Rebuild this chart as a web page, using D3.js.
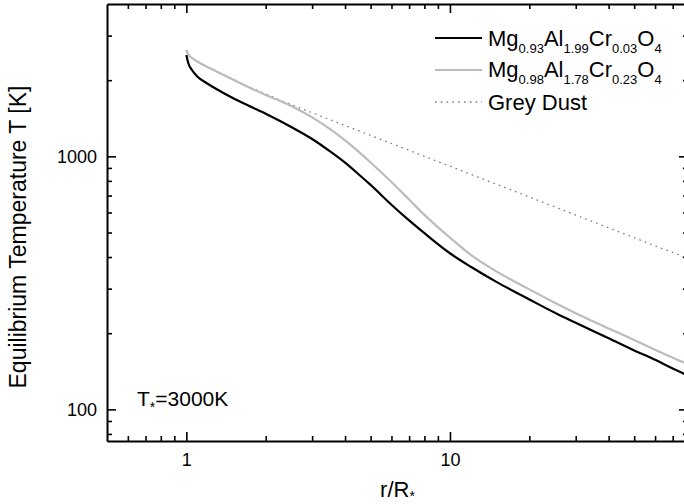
<!DOCTYPE html>
<html>
<head>
<meta charset="utf-8">
<script src="https://cdn.jsdelivr.net/npm/d3@7"></script>
<style>
  html, body { margin: 0; padding: 0; background: #fff; }
  svg { display: block; }
  text { font-family: "Liberation Sans", Arial, Helvetica, sans-serif; fill: #000; }
</style>
</head>
<body>
<svg id="chart" width="684" height="504"></svg>
<script>
// Radial distance in stellar radii (r/R*)
const radius = [1.00, 1.01, 1.02, 1.05, 1.10, 1.20, 1.30, 1.50, 1.75, 2.00, 2.50, 3.00, 3.50, 4.00, 4.50,
                5.00, 6.00, 7.00, 8.00, 10.0, 12.0, 15.0, 20.0, 25.0, 30.0, 40.0, 50.0, 60.0, 70.0, 80.0];

// Equilibrium temperatures [K] for each dust species
const tempMg093 = [2515, 2404, 2317, 2194, 2068, 1941, 1846, 1701, 1574, 1473, 1306, 1171, 1048, 944, 850,
                   771, 644, 558, 497, 414, 366, 319, 272, 241, 220, 191, 171, 157, 145, 136];
const tempMg098 = [2620, 2573, 2515, 2447, 2371, 2256, 2165, 2013, 1863, 1748, 1581, 1426, 1284, 1157, 1044,
                   946, 792, 675, 587, 477, 408, 351, 298, 264, 240, 209, 188, 172, 160, 151];
const tempGreyDust = [2633, 2574, 2527, 2459, 2381, 2265, 2175, 2022, 1871, 1764, 1602, 1488, 1397, 1324, 1263,
                      1210, 1124, 1057, 1000, 914, 849, 776, 691, 631, 586, 522, 477, 443, 417, 394];

// Axis ticks
const xMajorTicks = [1, 10];
const xMinorTicks = [0.6, 0.7, 0.8, 0.9, 2, 3, 4, 5, 6, 7, 8, 9, 20, 30, 40, 50, 60, 70];
const yMajorTicks = [100, 1000];
const yMinorTicks = [80, 90, 200, 300, 400, 500, 600, 700, 800, 900, 2000, 3000];

// Legend entries: [text, isSubscript] pieces
const legendMg093 = [["Mg", 0], ["0.93", 1], ["Al", 0], ["1.99", 1], ["Cr", 0], ["0.03", 1], ["O", 0], ["4", 1]];
const legendMg098 = [["Mg", 0], ["0.98", 1], ["Al", 0], ["1.78", 1], ["Cr", 0], ["0.23", 1], ["O", 0], ["4", 1]];
const legendGrey = [["Grey Dust", 0]];

const svg = d3.select("#chart");

const plot = { left: 107, right: 688, top: 4, bottom: 441 };

const x = d3.scaleLog().domain([0.5, 80]).range([plot.left, plot.right]);
const y = d3.scaleLog().domain([75, 4000]).range([plot.bottom, plot.top]);

// Curves
svg.append("defs").append("clipPath").attr("id", "plot-clip")
  .append("rect")
  .attr("x", plot.left).attr("y", plot.top)
  .attr("width", plot.right - plot.left).attr("height", plot.bottom - plot.top);

const series = [
  { values: tempGreyDust, stroke: "#7a7a7a", width: 1.3, dash: "1.6,4.2" },
  { values: tempMg098, stroke: "#bcbcbc", width: 2.2, dash: null },
  { values: tempMg093, stroke: "#000000", width: 2.2, dash: null }
];

const line = d3.line()
  .x(d => x(d[0]))
  .y(d => y(d[1]))
  .curve(d3.curveMonotoneX);

const curves = svg.append("g").attr("clip-path", "url(#plot-clip)");
series.forEach(s => {
  curves.append("path")
    .datum(radius.map((r, i) => [r, s.values[i]]))
    .attr("fill", "none")
    .attr("stroke", s.stroke)
    .attr("stroke-width", s.width)
    .attr("stroke-dasharray", s.dash)
    .attr("stroke-linejoin", "round")
    .attr("d", line);
});

// Axes: all ticks point into the frame
function styleAxis(g, showDomain) {
  g.attr("font-family", null).attr("font-size", null);
  g.select(".domain").attr("stroke", "#000").attr("stroke-width", 2).style("display", showDomain ? null : "none");
  g.selectAll(".tick line").attr("stroke", "#000").attr("stroke-width", 1.6);
  g.selectAll(".tick text").attr("font-size", 18).attr("fill", "#000");
}

svg.append("g").attr("transform", `translate(0,${plot.bottom})`)
  .call(d3.axisBottom(x).tickValues(xMinorTicks).tickSize(-5).tickSizeOuter(0).tickFormat(""))
  .call(g => styleAxis(g, false));
svg.append("g").attr("transform", `translate(0,${plot.bottom})`)
  .call(d3.axisBottom(x).tickValues(xMajorTicks).tickSize(-9).tickSizeOuter(0).tickPadding(12).tickFormat(d3.format("d")))
  .call(g => styleAxis(g, true));

svg.append("g").attr("transform", `translate(0,${plot.top})`)
  .call(d3.axisTop(x).tickValues(xMinorTicks).tickSize(-5).tickSizeOuter(0).tickFormat(""))
  .call(g => styleAxis(g, false));
svg.append("g").attr("transform", `translate(0,${plot.top})`)
  .call(d3.axisTop(x).tickValues(xMajorTicks).tickSize(-9).tickSizeOuter(0).tickFormat(""))
  .call(g => styleAxis(g, true));

svg.append("g").attr("transform", `translate(${plot.left},0)`)
  .call(d3.axisLeft(y).tickValues(yMinorTicks).tickSize(-5).tickSizeOuter(0).tickFormat(""))
  .call(g => styleAxis(g, false));
svg.append("g").attr("transform", `translate(${plot.left},0)`)
  .call(d3.axisLeft(y).tickValues(yMajorTicks).tickSize(-9).tickSizeOuter(0).tickPadding(10).tickFormat(d3.format("d")))
  .call(g => styleAxis(g, true));

svg.append("g").attr("transform", `translate(${plot.right},0)`)
  .call(d3.axisRight(y).tickValues(yMinorTicks).tickSize(-5).tickSizeOuter(0).tickFormat(""))
  .call(g => styleAxis(g, false));
svg.append("g").attr("transform", `translate(${plot.right},0)`)
  .call(d3.axisRight(y).tickValues(yMajorTicks).tickSize(-9).tickSizeOuter(0).tickFormat(""))
  .call(g => styleAxis(g, true));

// Axis titles
const xTitle = svg.append("text")
  .attr("x", (plot.left + plot.right) / 2)
  .attr("y", 497)
  .attr("text-anchor", "middle")
  .attr("font-size", 22);
xTitle.append("tspan").text("r/R");
xTitle.append("tspan").attr("font-size", 14).attr("dy", 4).text("*");

svg.append("text")
  .attr("transform", "translate(26,237) rotate(-90)")
  .attr("text-anchor", "middle")
  .attr("font-size", 23)
  .text("Equilibrium Temperature T [K]");

// Stellar temperature note
const note = svg.append("text").attr("x", 137).attr("y", 406).attr("font-size", 21);
note.append("tspan").text("T");
note.append("tspan").attr("font-size", 14).attr("dy", 6).text("*");
note.append("tspan").attr("dy", -6).text("=3000K");

// Legend
const legendRows = [
  { parts: legendMg093, stroke: "#000000", width: 2.2, dash: null, yLine: 38, yText: 46 },
  { parts: legendMg098, stroke: "#bcbcbc", width: 2.2, dash: null, yLine: 70, yText: 77 },
  { parts: legendGrey, stroke: "#7a7a7a", width: 1.3, dash: "1.6,4.2", yLine: 102, yText: 110 }
];
const legend = svg.append("g");
legendRows.forEach(row => {
  legend.append("line")
    .attr("x1", 435).attr("x2", 482)
    .attr("y1", row.yLine).attr("y2", row.yLine)
    .attr("stroke", row.stroke)
    .attr("stroke-width", row.width)
    .attr("stroke-dasharray", row.dash);
  const t = legend.append("text").attr("x", 488).attr("y", row.yText).attr("font-size", 22);
  let shifted = 0;
  row.parts.forEach(([txt, sub]) => {
    const ts = t.append("tspan").text(txt);
    if (sub) {
      ts.attr("font-size", 13).attr("dy", 7 - shifted);
      shifted = 7;
    } else {
      ts.attr("dy", -shifted);
      shifted = 0;
    }
  });
});
</script>
</body>
</html>
